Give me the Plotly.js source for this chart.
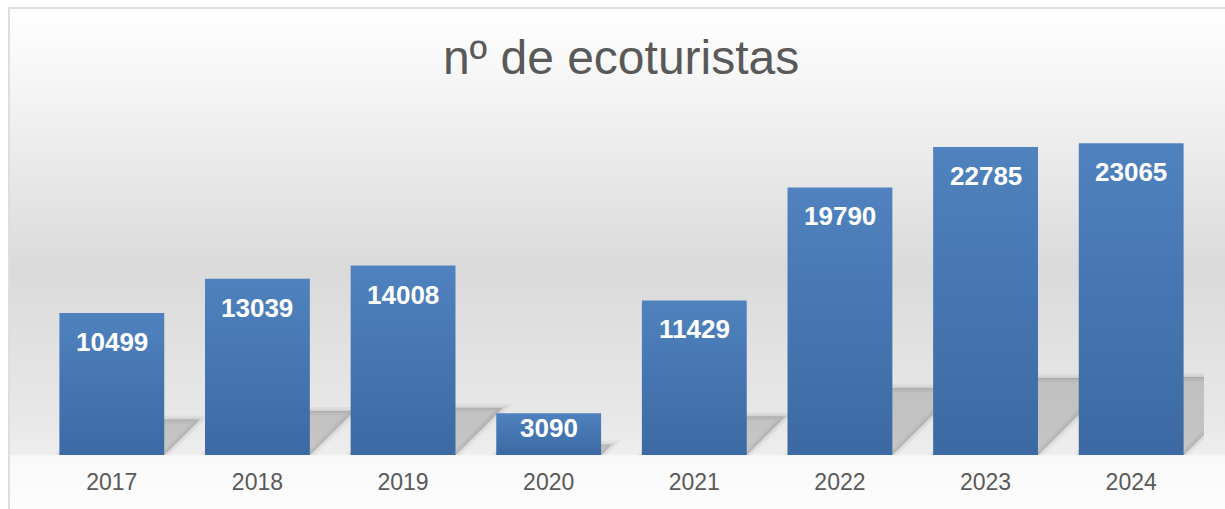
<!DOCTYPE html>
<html><head><meta charset="utf-8">
<script src="https://cdn.plot.ly/plotly-3.0.1.min.js"></script>
<style>
html,body{margin:0;padding:0;width:1225px;height:509px;overflow:hidden;background:#fff;}
#bg{position:absolute;left:8px;top:7px;width:1240px;height:520px;border:2px solid #dedede;
background:linear-gradient(to bottom,#ffffff 0px,#f3f3f3 91px,#dadada 261px,#e9e9e9 420px,#eeeeee 445px,#f9f9f9 447px,#fdfdfd 510px);}
#chart{position:absolute;left:0;top:0;width:1225px;height:509px;}
</style></head><body>
<div id="bg"></div><div id="chart"></div>
<script>
const chartTitle = 'nº de ecoturistas';
const years = ['2017','2018','2019','2020','2021','2022','2023','2024'];
const visitors = [10499, 13039, 14008, 3090, 11429, 19790, 22785, 23065];

const W = 1225, H = 509;
const M = {l: 39, r: 21, t: 117, b: 54};
const yMax = 25000;
const plotW = W - M.l - M.r, plotH = H - M.t - M.b;
const ppu = plotH / yMax;              // px per data unit
const catPx = plotW / years.length;    // px per category
const halfBar = 0.36;
const font = 'Liberation Sans, Arial, sans-serif';

// floor shadows: sheared copies of each bar, computed from the data
const shear = ppu / catPx;
const shapes = [];
const f = n => n.toFixed(4);
visitors.forEach((v, i) => {
  const h = 0.25 * v;
  const xl = i - halfBar, xr = i + halfBar;
  const path = `M ${f(xl)},0 L ${f(xr)},0 L ${f(xr + h * shear)},${f(h)} L ${f(xl + h * shear)},${f(h)} Z`;
  // soft halo + core to imitate a blurred shadow
  shapes.push({type: 'path', path, xref: 'x', yref: 'y', layer: 'below',
    fillcolor: 'rgba(0,0,0,0)', line: {color: 'rgba(0,0,0,0.04)', width: 8}});
  shapes.push({type: 'path', path, xref: 'x', yref: 'y', layer: 'below',
    fillcolor: 'rgba(0,0,0,0.16)', line: {color: 'rgba(0,0,0,0.05)', width: 3}});
});

const annotations = visitors.map((v, i) => ({
  x: i, y: v, xref: 'x', yref: 'y', showarrow: false,
  text: String(v), yanchor: 'middle',
  yshift: -Math.min(29, v * ppu * 0.36),
  font: {family: font, size: 26, color: '#ffffff', weight: 'bold'}
}));

const trace = {
  type: 'bar', x: years, y: visitors,
  marker: {color: '#4676b3', line: {width: 0}},
  hoverinfo: 'none'
};

const layout = {
  width: W, height: H,
  margin: M,
  paper_bgcolor: 'rgba(0,0,0,0)', plot_bgcolor: 'rgba(0,0,0,0)',
  title: {text: chartTitle, x: 0.507, xanchor: 'center', xref: 'container',
          y: 0.888, yanchor: 'middle', yref: 'container',
          font: {family: font, size: 48, color: '#595959'}},
  bargap: 0.28,
  showlegend: false,
  xaxis: {type: 'category', categoryorder: 'array', categoryarray: years,
          range: [-0.5, years.length - 0.5], autorange: false,
          showgrid: false, zeroline: false, showline: false,
          ticks: '', ticklabelstandoff: 11,
          tickfont: {family: font, size: 23, color: '#595959'}},
  yaxis: {range: [0, yMax], autorange: false, visible: false, showgrid: false, zeroline: false},
  shapes, annotations
};

Plotly.newPlot('chart', [trace], layout, {staticPlot: true}).then(gd => {
  const svg = gd.querySelector('svg.main-svg');
  const ns = 'http://www.w3.org/2000/svg';
  let defs = svg.querySelector('defs');
  const g = document.createElementNS(ns, 'linearGradient');
  g.setAttribute('id', 'barGrad');
  g.setAttribute('x1', '0'); g.setAttribute('y1', '0');
  g.setAttribute('x2', '0'); g.setAttribute('y2', '1');
  [['0', '#4f82be'], ['1', '#3c69a3']].forEach(([o, c]) => {
    const s = document.createElementNS(ns, 'stop');
    s.setAttribute('offset', o); s.setAttribute('stop-color', c);
    g.appendChild(s);
  });
  defs.appendChild(g);
  gd.querySelectorAll('.bars .point path').forEach(p => { p.style.fill = 'url(#barGrad)'; });
});
</script>
</body></html>
